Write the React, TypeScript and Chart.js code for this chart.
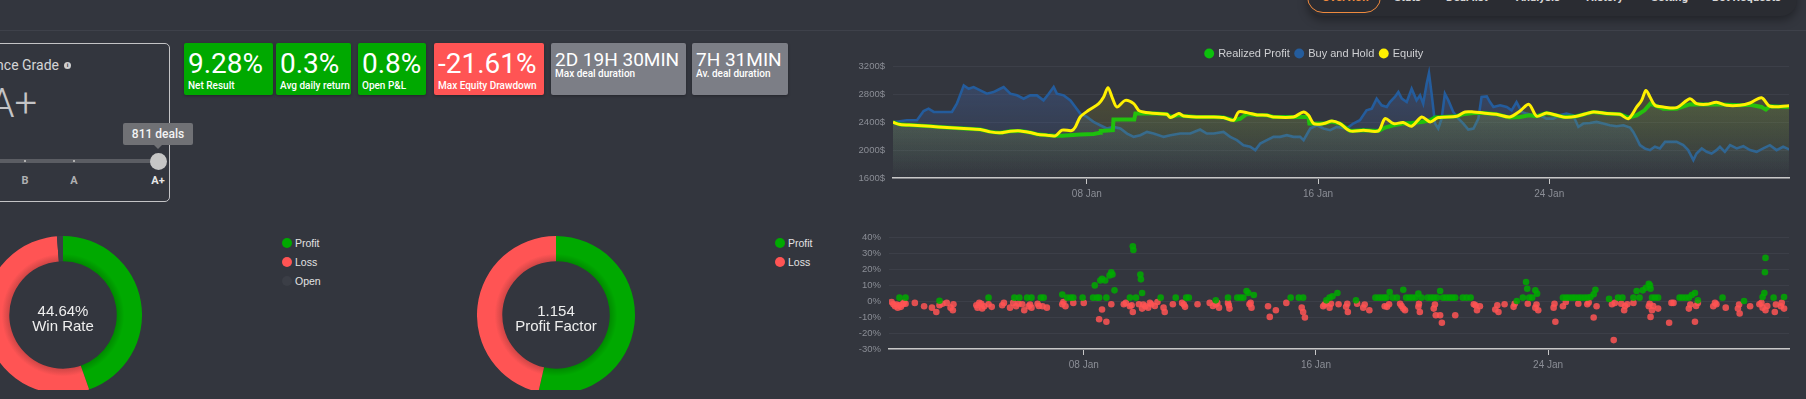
import React, { useEffect, useRef } from "react";
import { Chart, registerables } from "chart.js";
Chart.register(...registerables);

// ---------------- data ----------------
const navItems = ["Overview", "Stats", "Deal list", "Analysis", "History", "Setting", "Bot Requests"];
const kpiValues = ["9.28%", "0.3%", "0.8%", "-21.61%", "2D 19H 30MIN", "7H 31MIN"];
const kpiLabels = ["Net Result", "Avg daily return", "Open P&L", "Max Equity Drawdown", "Max deal duration", "Av. deal duration"];
const kpiKinds = ["pos", "pos", "pos", "neg", "info", "info"];
const gradeTitle = "Performance Grade";
const gradeValue = "A+";
const gradeSteps = ["B", "A", "A+"];
const dealsText = "811 deals";

const winLabels = ["Profit", "Loss", "Open"];
const winCounts = [362, 439, 10];
const winRateText = "44.64%";
const winRateCaption = "Win Rate";
const pfLabels = ["Profit", "Loss"];
const pfValues = [1.154, 1];
const pfText = "1.154";
const pfCaption = "Profit Factor";

const xTickDays = [8, 16, 24];
const xTickLabels = ["08 Jan", "16 Jan", "24 Jan"];
const equityTicks = [1600, 2000, 2400, 2800, 3200];
const pctTicks = [-30, -20, -10, 0, 10, 20, 30, 40];
const seriesNames = ["Realized Profit", "Buy and Hold", "Equity"];

const rpDays = [1.29, 1.54, 2.0, 2.58, 3.16, 3.74, 4.31, 4.66, 5.0, 5.35, 5.7, 6.04, 6.27, 6.62, 6.91, 7.14, 7.77, 8.23, 8.46, 8.48, 8.9, 8.92, 9.64, 9.68, 9.96, 10.42, 10.77, 10.89, 11.18, 11.35, 11.81, 12.39, 12.73, 13.08, 13.3, 13.54, 13.89, 14.23, 14.46, 15.15, 15.5, 15.67, 15.7, 16.19, 16.48, 16.76, 17.11, 17.57, 18.09, 18.32, 18.61, 18.95, 19.24, 19.59, 19.88, 20.05, 20.8, 21.0, 21.38, 21.72, 22.18, 22.64, 22.99, 23.3, 23.57, 23.91, 24.49, 24.95, 25.53, 25.99, 26.45, 26.74, 27.03, 27.3, 27.5, 27.95, 28.41, 28.87, 29.45, 29.79, 30.6, 30.95, 31.35, 31.5, 31.64, 32.31];
const rpValues = [2400, 2367, 2357, 2343, 2324, 2310, 2295, 2262, 2248, 2271, 2276, 2252, 2229, 2214, 2205, 2205, 2224, 2233, 2248, 2276, 2286, 2438, 2440, 2524, 2524, 2524, 2514, 2476, 2505, 2490, 2476, 2476, 2467, 2429, 2450, 2520, 2505, 2500, 2476, 2476, 2476, 2476, 2381, 2381, 2410, 2381, 2276, 2286, 2276, 2324, 2357, 2381, 2390, 2405, 2429, 2467, 2486, 2514, 2533, 2533, 2514, 2467, 2476, 2500, 2486, 2533, 2476, 2486, 2548, 2524, 2514, 2467, 2500, 2571, 2667, 2595, 2595, 2657, 2655, 2657, 2643, 2650, 2619, 2581, 2629, 2619];

const bhDays = [1.29, 1.77, 2.12, 2.35, 2.52, 2.7, 3.04, 3.33, 3.5, 3.74, 3.91, 4.08, 4.31, 4.54, 4.77, 5.0, 5.12, 5.35, 5.58, 5.81, 6.04, 6.27, 6.5, 6.68, 6.85, 6.96, 7.2, 7.43, 7.6, 7.77, 8.0, 8.23, 8.46, 8.69, 8.93, 9.16, 9.39, 9.62, 9.85, 10.08, 10.31, 10.66, 10.89, 11.23, 11.58, 11.92, 12.15, 12.39, 12.73, 12.96, 13.19, 13.42, 13.65, 13.83, 14.0, 14.23, 14.46, 14.69, 14.92, 15.15, 15.38, 15.5, 15.73, 15.96, 16.19, 16.42, 16.65, 16.99, 17.22, 17.45, 17.68, 17.86, 18.03, 18.2, 18.38, 18.49, 18.66, 18.78, 18.9, 19.07, 19.24, 19.41, 19.53, 19.64, 19.76, 19.84, 19.93, 20.05, 20.16, 20.28, 20.39, 20.51, 20.68, 20.86, 21.03, 21.2, 21.38, 21.55, 21.66, 21.84, 21.95, 22.07, 22.3, 22.53, 22.7, 22.87, 23.05, 23.22, 23.45, 23.68, 23.91, 24.14, 24.37, 24.6, 24.83, 25.01, 25.18, 25.41, 25.64, 25.87, 26.1, 26.33, 26.57, 26.8, 26.91, 27.03, 27.14, 27.31, 27.49, 27.66, 27.83, 28.01, 28.18, 28.41, 28.64, 28.81, 28.99, 29.1, 29.28, 29.45, 29.62, 29.79, 29.91, 30.08, 30.26, 30.49, 30.72, 30.95, 31.18, 31.41, 31.64, 31.87, 32.1, 32.31];
const bhValues = [2400, 2429, 2429, 2562, 2595, 2548, 2548, 2548, 2667, 2929, 2881, 2905, 2857, 2810, 2833, 2881, 2905, 2810, 2786, 2738, 2786, 2786, 2714, 2810, 2905, 2810, 2786, 2714, 2619, 2524, 2476, 2405, 2357, 2310, 2333, 2310, 2238, 2190, 2214, 2262, 2238, 2190, 2214, 2238, 2238, 2295, 2238, 2238, 2262, 2190, 2143, 2071, 2048, 2000, 2095, 2143, 2190, 2190, 2214, 2190, 2190, 2143, 2310, 2357, 2310, 2286, 2333, 2310, 2381, 2429, 2571, 2595, 2738, 2643, 2619, 2690, 2762, 2833, 2738, 2690, 2881, 2714, 2786, 2667, 2952, 3105, 2810, 2381, 2310, 2452, 2810, 2714, 2548, 2452, 2381, 2295, 2310, 2452, 2762, 2771, 2690, 2619, 2643, 2619, 2571, 2690, 2548, 2524, 2500, 2500, 2452, 2452, 2500, 2524, 2500, 2333, 2381, 2390, 2405, 2381, 2357, 2343, 2357, 2324, 2262, 2167, 2071, 2024, 2000, 2048, 2024, 2119, 2119, 2119, 2071, 2000, 1857, 1952, 2024, 1976, 1952, 2000, 2048, 1976, 2071, 2024, 2057, 2000, 1976, 2024, 2071, 2000, 2048, 2010];

const eqDays = [1.29, 1.54, 2.0, 2.58, 3.16, 3.74, 4.31, 4.66, 5.0, 5.35, 5.7, 6.04, 6.27, 6.62, 6.91, 7.14, 7.48, 7.6, 7.77, 8.06, 8.41, 8.58, 8.73, 8.89, 9.04, 9.33, 9.62, 9.79, 9.96, 10.42, 10.77, 10.89, 11.18, 11.35, 11.81, 12.39, 12.73, 13.08, 13.25, 13.54, 13.89, 14.23, 14.46, 15.15, 15.5, 15.67, 15.85, 16.19, 16.48, 16.76, 17.11, 17.57, 18.09, 18.32, 18.61, 18.95, 19.24, 19.59, 19.88, 20.16, 20.8, 21.09, 21.38, 21.72, 22.18, 22.64, 22.99, 23.3, 23.57, 23.91, 24.49, 24.95, 25.53, 25.99, 26.45, 26.74, 27.03, 27.2, 27.35, 27.49, 27.66, 27.95, 28.41, 28.87, 29.1, 29.45, 29.79, 30.14, 30.6, 30.95, 31.35, 31.64, 32.31];
const eqValues = [2400, 2367, 2357, 2343, 2324, 2310, 2295, 2262, 2248, 2271, 2276, 2252, 2229, 2214, 2205, 2286, 2281, 2333, 2476, 2571, 2667, 2762, 2895, 2738, 2619, 2714, 2667, 2571, 2548, 2524, 2514, 2467, 2524, 2490, 2476, 2476, 2467, 2429, 2548, 2538, 2505, 2500, 2476, 2476, 2548, 2500, 2381, 2381, 2419, 2381, 2276, 2286, 2276, 2452, 2381, 2395, 2343, 2476, 2405, 2467, 2486, 2548, 2548, 2533, 2514, 2476, 2562, 2657, 2486, 2533, 2476, 2486, 2548, 2524, 2514, 2452, 2619, 2714, 2857, 2762, 2643, 2619, 2610, 2738, 2667, 2657, 2686, 2643, 2643, 2676, 2752, 2629, 2638];

const profitDays = [1.65, 1.86, 3.03, 4.72, 5.61, 5.78, 6.05, 6.2, 6.52, 6.62, 7.26, 7.43, 7.55, 7.64, 7.96, 8.32, 8.38, 8.45, 8.53, 8.57, 8.63, 8.74, 8.78, 8.89, 8.95, 8.99, 9.06, 9.59, 9.69, 9.71, 9.8, 9.95, 9.97, 10.01, 10.65, 11.17, 11.53, 11.62, 12.55, 12.97, 13.29, 13.4, 13.5, 13.61, 13.67, 13.86, 15.13, 15.41, 15.56, 16.36, 16.47, 16.57, 16.74, 17.38, 18.05, 18.16, 18.26, 18.36, 18.43, 18.54, 18.65, 18.79, 19.01, 19.11, 19.22, 19.32, 19.43, 19.53, 19.64, 19.85, 19.96, 20.06, 20.17, 20.28, 20.38, 20.49, 20.6, 20.7, 20.8, 21.06, 21.19, 21.33, 22.92, 23.13, 23.24, 23.28, 23.35, 23.45, 23.56, 23.62, 24.51, 24.62, 24.72, 24.83, 24.93, 25.04, 25.14, 25.25, 25.35, 25.46, 25.57, 25.63, 26.1, 26.41, 26.56, 26.94, 27.05, 27.15, 27.26, 27.37, 27.47, 27.51, 27.53, 27.58, 27.68, 27.79, 28.53, 28.63, 28.74, 28.85, 28.95, 29.06, 29.16, 30.01, 30.75, 31.39, 31.45, 31.47, 31.49, 31.77, 32.13];
const profitPct = [2.3, 2.3, 0.3, 2.3, 2.3, 2.3, 2.3, 2.3, 2.3, 2.3, 4.2, 2.3, 2.3, 2.3, 2.3, 2.3, 10.0, 2.3, 2.3, 13.1, 14.2, 13.1, 2.3, 16.3, 18.3, 16.9, 6.9, 2.3, 34.6, 32.3, 2.3, 16.9, 13.8, 5.2, 2.3, 2.3, 2.3, 2.3, 0.6, 2.3, 2.3, 2.3, 2.3, 6.5, 5.2, 4.0, 2.3, 2.3, 2.3, 0.6, 2.3, 3.1, 5.2, 0.6, 2.3, 2.3, 2.3, 2.3, 2.3, 5.8, 2.3, 2.3, 7.3, 2.3, 2.3, 2.3, 2.3, 4.8, 2.3, 2.3, 2.3, 2.3, 2.3, 6.5, 2.3, 2.3, 2.3, 2.3, 2.3, 2.3, 2.3, 2.3, 0.2, 2.3, 12.1, 7.9, 2.3, 2.3, 6.9, 4.8, 2.3, 2.3, 2.3, 2.3, 2.3, 2.3, 2.3, 2.3, 2.3, 2.7, 4.4, 7.3, 1.5, 2.3, 2.3, 2.3, 6.5, 2.3, 6.9, 8.5, 11.0, 10.0, 7.9, 2.3, 2.3, 2.3, 2.3, 2.3, 2.3, 2.3, 4.0, 5.2, 0.6, 2.3, 0.2, 2.7, 5.2, 18.3, 27.3, 2.3, 2.7];

const lossDays = [1.38, 1.44, 1.5, 1.55, 1.59, 1.65, 1.7, 1.76, 1.8, 1.86, 2.18, 2.5, 2.77, 2.92, 3.03, 3.13, 3.28, 3.41, 3.49, 3.51, 4.3, 4.34, 4.4, 4.47, 4.5, 4.57, 4.72, 4.83, 5.19, 5.25, 5.46, 5.57, 5.67, 5.75, 5.88, 5.95, 6.1, 6.15, 6.2, 6.41, 6.45, 6.58, 6.73, 7.26, 7.3, 7.37, 7.64, 8.0, 8.53, 8.63, 8.78, 8.95, 9.38, 9.45, 9.59, 9.65, 9.69, 9.9, 10.01, 10.05, 10.12, 10.22, 10.28, 10.33, 10.45, 10.54, 10.75, 10.79, 11.07, 11.39, 11.45, 11.49, 11.92, 12.34, 12.45, 12.55, 12.6, 12.66, 12.97, 13.0, 13.02, 13.71, 13.75, 13.78, 14.35, 14.41, 14.62, 14.98, 15.51, 15.56, 15.62, 16.25, 16.3, 16.36, 16.47, 16.52, 16.78, 17.04, 17.08, 17.1, 17.42, 17.63, 17.68, 17.84, 18.37, 18.45, 18.52, 18.9, 18.95, 19.01, 19.07, 19.53, 19.55, 19.58, 20.06, 20.1, 20.13, 20.28, 20.34, 20.8, 21.44, 21.5, 21.55, 21.65, 22.18, 22.25, 22.29, 22.5, 22.81, 22.85, 23.3, 23.56, 23.6, 23.66, 24.19, 24.22, 24.25, 24.51, 24.61, 25.04, 25.35, 25.4, 25.57, 25.67, 26.2, 26.26, 26.3, 26.52, 26.62, 26.65, 26.73, 26.94, 27.47, 27.5, 27.53, 27.58, 27.62, 27.79, 28.17, 28.25, 28.32, 28.85, 28.9, 29.06, 29.1, 29.16, 29.69, 29.75, 29.8, 30.12, 30.54, 30.58, 30.6, 30.96, 31.28, 31.35, 31.39, 31.49, 31.55, 31.81, 31.85, 32.02, 32.05, 32.13];
const lossPct = [-0.4, -1.9, -3.1, -2.0, -4.0, -2.5, -3.5, -1.9, -0.8, -1.5, -1.0, -3.1, -4.0, -6.7, -2.5, -1.5, -1.0, -4.0, -5.6, -1.9, -2.5, -4.0, -1.0, -1.5, -4.5, -3.1, -1.9, -3.5, -2.5, -1.0, -4.0, -1.0, -3.1, -1.5, -1.9, -5.6, -3.1, -2.0, -4.0, -1.5, -3.0, -3.1, -4.0, -1.9, -0.5, -3.1, -1.0, -1.0, -11.3, -5.2, -12.9, -1.9, -1.9, -1.0, -3.1, -2.5, -6.7, -1.9, -4.6, -2.0, -3.1, -4.0, -1.0, -1.9, -3.0, -0.4, -4.0, -6.7, -1.9, -1.0, -2.0, -3.5, -1.9, -1.0, -3.0, -1.9, -1.0, -4.0, -1.0, -2.5, -4.6, -1.9, -1.0, -4.0, -3.1, -9.8, -5.6, -1.0, -4.0, -6.7, -10.2, -3.1, -2.0, -1.0, -4.0, -1.5, -1.9, -3.5, -1.5, -6.7, -1.5, -4.0, -2.0, -5.6, -3.1, -3.5, -1.9, -1.5, -3.0, -4.6, -5.6, -3.5, -1.5, -6.7, -4.6, -2.0, -8.8, -8.8, -13.5, -8.8, -1.9, -2.5, -5.6, -3.1, -5.2, -2.5, -6.7, -1.9, -3.5, -1.5, -1.5, -4.0, -2.0, -5.6, -4.0, -1.5, -12.9, -3.1, -0.4, -1.5, -1.9, -0.8, -10.2, -3.1, -1.9, -24.4, -1.0, -1.5, -5.6, -3.0, -1.9, -1.0, -3.1, -1.5, -9.8, -5.6, -3.0, -4.6, -13.5, -1.0, -1.0, -4.6, -2.0, -12.9, -3.0, -1.0, -3.1, -1.0, -1.9, -4.0, -4.6, -2.0, -7.7, -3.1, -1.9, -1.0, -4.0, -5.6, -3.0, -6.7, -2.0, -3.1, -1.0, -4.6];

// ---------------- styling ----------------
const BG = "#33363e";
const GREEN = "#00a900";
const RED = "#ff5454";
const GREY = "#7c7e86";
const LINE_GREEN = "#0cc00c";
const LINE_BLUE = "#245c9c";
const LINE_YELLOW = "#fff000";
const TICK_COLOR = "#8b8e96";
const GRID_COLOR = "#3c3f48";
const AXIS_COLOR = "#c8c8c8";
const FONT = "Roboto, 'Liberation Sans', Arial, sans-serif";
const ARIAL = "'Liberation Sans', Arial, sans-serif";

const kpiBoxes = [
  { left: 184, width: 89 },
  { left: 276, width: 75 },
  { left: 358, width: 68 },
  { left: 434, width: 110 },
  { left: 551, width: 135 },
  { left: 692, width: 96 },
];
const navPos = [1322, 1394, 1446, 1516, 1586, 1651, 1712];

function pts(xs: number[], ys: number[]) {
  return xs.map((x, i) => ({ x, y: ys[i] }));
}

function vGradient(chart: any, top: string, bottom: string) {
  const area = chart.chartArea;
  if (!area) return top;
  const g = chart.ctx.createLinearGradient(0, area.top, 0, area.bottom);
  g.addColorStop(0, top);
  g.addColorStop(1, bottom);
  return g;
}

// trims the fixed 10px gap Chart.js puts under a horizontal legend
const legendTrim = {
  id: "legendTrim",
  beforeUpdate(chart: any) {
    const lg = chart.legend;
    if (lg && !lg.__trimmed) {
      const orig = lg.fit.bind(lg);
      lg.fit = function () {
        orig();
        this.height = Math.max(0, this.height - 2.5);
      };
      lg.__trimmed = true;
    }
  },
};

function xScale() {
  return {
    type: "linear" as const,
    min: 1.29,
    max: 32.3,
    afterBuildTicks: (axis: any) => {
      axis.ticks = xTickDays.map((v) => ({ value: v }));
    },
    ticks: {
      color: TICK_COLOR,
      font: { size: 10, family: ARIAL },
      padding: 4,
      maxRotation: 0,
      autoSkip: false,
      callback: (v: any) => xTickLabels[xTickDays.indexOf(Number(v))] ?? "",
    },
    grid: { display: true, drawOnChartArea: false, color: AXIS_COLOR, tickLength: 6, lineWidth: 1 },
    border: { display: true, color: AXIS_COLOR, width: 1.5 },
  };
}

function EquityChart() {
  const ref = useRef<HTMLCanvasElement>(null);
  useEffect(() => {
    const lineColors = [LINE_GREEN, LINE_BLUE, LINE_YELLOW];
    const chart = new Chart(ref.current!, {
      type: "line",
      plugins: [legendTrim],
      data: {
        datasets: [
          {
            label: seriesNames[0],
            data: pts(rpDays, rpValues),
            borderColor: LINE_GREEN,
            borderWidth: 4,
            pointRadius: 0,
            tension: 0,
            order: 1,
            fill: "start",
            backgroundColor: (c: any) => vGradient(c.chart, "rgba(90,160,115,0.26)", "rgba(90,160,115,0.0)"),
          },
          {
            label: seriesNames[1],
            data: pts(bhDays, bhValues),
            borderColor: LINE_BLUE,
            borderWidth: 2.6,
            pointRadius: 0,
            tension: 0,
            order: 2,
            fill: "start",
            backgroundColor: (c: any) => vGradient(c.chart, "rgba(70,110,190,0.36)", "rgba(70,110,190,0.0)"),
          },
          {
            label: seriesNames[2],
            data: pts(eqDays, eqValues),
            borderColor: LINE_YELLOW,
            borderWidth: 3,
            pointRadius: 0,
            tension: 0.3,
            order: 0,
            fill: "start",
            backgroundColor: (c: any) => vGradient(c.chart, "rgba(200,190,20,0.22)", "rgba(200,190,20,0.0)"),
          },
        ],
      },
      options: {
        animation: false,
        responsive: false,
        maintainAspectRatio: false,
        layout: { padding: { left: 0, right: 11, top: 0, bottom: 0 } },
        plugins: {
          tooltip: { enabled: false },
          legend: {
            display: true,
            labels: {
              usePointStyle: true,
              pointStyle: "circle",
              boxWidth: 7,
              boxHeight: 7,
              padding: 6,
              color: "#cfd0d3",
              font: { size: 11, family: ARIAL },
              generateLabels: (ch: any) => {
                const items = (Chart.defaults.plugins.legend.labels as any).generateLabels(ch);
                items.forEach((it: any) => {
                  it.fillStyle = lineColors[it.datasetIndex];
                  it.strokeStyle = lineColors[it.datasetIndex];
                  it.lineWidth = 0;
                });
                return items.sort((a: any, b: any) => a.datasetIndex - b.datasetIndex);
              },
            },
          },
        },
        scales: {
          x: xScale(),
          y: {
            min: 1600,
            max: 3200,
            afterBuildTicks: (axis: any) => {
              axis.ticks = equityTicks.map((v) => ({ value: v }));
            },
            ticks: {
              color: TICK_COLOR,
              font: { size: 9.5, family: ARIAL },
              padding: 8,
              callback: (v: any) => `${v}$`,
            },
            grid: { color: GRID_COLOR, drawTicks: false },
            border: { display: false },
            afterFit: (s: any) => {
              s.width = 53;
            },
          },
        },
      } as any,
    });
    return () => chart.destroy();
  }, []);
  return <canvas ref={ref} width={960} height={162} style={{ position: "absolute", left: 840, top: 42, width: 960, height: 162 }} />;
}

function TradesChart() {
  const ref = useRef<HTMLCanvasElement>(null);
  useEffect(() => {
    const chart = new Chart(ref.current!, {
      type: "scatter",
      data: {
        datasets: [
          {
            label: "Profit",
            data: pts(profitDays, profitPct),
            backgroundColor: "rgba(0,170,0,0.85)",
            borderWidth: 0,
            pointRadius: 3.3,
          },
          {
            label: "Loss",
            data: pts(lossDays, lossPct),
            backgroundColor: "rgba(255,84,84,0.85)",
            borderWidth: 0,
            pointRadius: 3.3,
          },
        ],
      },
      options: {
        animation: false,
        responsive: false,
        maintainAspectRatio: false,
        layout: { padding: { left: 0, right: 11, top: 0, bottom: 0 } },
        plugins: { legend: { display: false }, tooltip: { enabled: false } },
        scales: {
          x: xScale(),
          y: {
            min: -30,
            max: 40,
            afterBuildTicks: (axis: any) => {
              axis.ticks = pctTicks.map((v) => ({ value: v }));
            },
            ticks: {
              color: TICK_COLOR,
              font: { size: 9.5, family: ARIAL },
              padding: 8,
              callback: (v: any) => `${v}%`,
            },
            grid: { color: GRID_COLOR, drawTicks: false },
            border: { display: false },
            afterFit: (s: any) => {
              s.width = 49;
            },
          },
        },
      } as any,
    });
    return () => chart.destroy();
  }, []);
  return <canvas ref={ref} width={960} height={151} style={{ position: "absolute", left: 840, top: 224, width: 960, height: 151 }} />;
}

function ringGradient(c: any, base: string, dark: string) {
  const chart = c.chart;
  const a = chart.chartArea;
  if (!a) return base;
  const cx = (a.left + a.right) / 2;
  const cy = (a.top + a.bottom) / 2;
  const r = Math.min(a.right - a.left, a.bottom - a.top) / 2;
  const g = chart.ctx.createRadialGradient(cx, cy, r * 0.68, cx, cy, r);
  g.addColorStop(0, dark);
  g.addColorStop(0.3, base);
  g.addColorStop(1, base);
  return g;
}

function Donut(props: { values: number[]; labels: string[]; colors: string[]; darks: string[]; cx: number; cy: number; r: number; line1: string; line2: string }) {
  const ref = useRef<HTMLCanvasElement>(null);
  const { values, labels, colors, darks, cx, cy, r, line1, line2 } = props;
  useEffect(() => {
    const chart = new Chart(ref.current!, {
      type: "doughnut",
      data: {
        labels,
        datasets: [
          {
            data: values,
            backgroundColor: (c: any) => ringGradient(c, colors[c.dataIndex], darks[c.dataIndex]),
            borderWidth: 0,
          },
        ],
      },
      options: {
        animation: false,
        responsive: false,
        maintainAspectRatio: false,
        cutout: "68%",
        plugins: { legend: { display: false }, tooltip: { enabled: false } },
      } as any,
    });
    return () => chart.destroy();
  }, []);
  const size = r * 2;
  return (
    <>
      <div style={{ position: "absolute", left: cx - r, top: cy - r, width: size, height: 390 - (cy - r), overflow: "hidden" }}>
        <canvas ref={ref} width={size} height={size} style={{ width: size, height: size, display: "block" }} />
      </div>
      <div style={{ position: "absolute", left: cx - 60, width: 120, top: cy - 11, textAlign: "center", color: "#eeeeee", font: `15px ${ARIAL}`, lineHeight: "14.5px" }}>
        <div>{line1}</div>
        <div>{line2}</div>
      </div>
    </>
  );
}

function DonutLegend(props: { labels: string[]; colors: string[]; x: number; y: number }) {
  return (
    <div style={{ position: "absolute", left: props.x, top: props.y }}>
      {props.labels.map((l, i) => (
        <div key={l} style={{ position: "absolute", left: 0, top: i * 19, height: 12, whiteSpace: "nowrap", display: "flex", alignItems: "center" }}>
          <span style={{ display: "inline-block", width: 10, height: 10, borderRadius: 5, background: props.colors[i], marginRight: 3 }} />
          <span style={{ color: "#e2e2e2", font: `10.5px ${ARIAL}`, lineHeight: "12px" }}>{l}</span>
        </div>
      ))}
    </div>
  );
}

export default function App() {
  return (
    <div style={{ position: "fixed", left: 0, top: 0, width: 1806, height: 399, background: BG, overflow: "hidden", fontFamily: FONT }}>
      {/* top navigation */}
      <div style={{ position: "absolute", left: 0, top: 30, width: 1806, height: 1, background: "#3e414a" }} />
      <div style={{ position: "absolute", left: 1307, top: -30, width: 490, height: 46, background: "#2a2c32", borderRadius: "0 0 16px 16px", boxShadow: "0 4px 10px rgba(0,0,0,0.35)" }} />
      <div style={{ position: "absolute", left: 1307, top: -20, width: 72, height: 31, border: "1.5px solid #ef8a3e", borderRadius: 16 }} />
      {navItems.map((n, i) => (
        <div key={n} style={{ position: "absolute", left: navPos[i], top: -8, font: `bold 11.5px ${FONT}`, lineHeight: "11.5px", color: i === 0 ? "#ef8a3e" : "#d8d8d8", whiteSpace: "nowrap" }}>
          {n}
        </div>
      ))}

      {/* grade card */}
      <div style={{ position: "absolute", left: -80, top: 43, width: 250, height: 159, boxSizing: "border-box", border: "1px solid #c4c4c6", borderRadius: 5 }} />
      <div style={{ position: "absolute", right: 1806 - 59, top: 57, font: `14px ${FONT}`, lineHeight: "16px", color: "#d4d4d6", whiteSpace: "nowrap" }}>{gradeTitle}</div>
      <div style={{ position: "absolute", left: 64, top: 62, width: 7, height: 7, borderRadius: 4, background: "#cfcfcf", color: BG, font: `bold 6px ${ARIAL}`, lineHeight: "7px", textAlign: "center" }}>i</div>
      <div style={{ position: "absolute", right: 1806 - 37, top: 84, font: `300 40px ${FONT}`, lineHeight: "40px", color: "#c4c4c6", whiteSpace: "nowrap" }}>{gradeValue}</div>
      <div style={{ position: "absolute", left: -80, top: 159, width: 238, height: 4, borderRadius: 2, background: "#5b5d63" }} />
      {[25, 74].map((x) => (
        <div key={x} style={{ position: "absolute", left: x - 1, top: 160, width: 2, height: 2, background: "#b0b0b0" }} />
      ))}
      <div style={{ position: "absolute", left: 150, top: 153, width: 17, height: 17, borderRadius: 9, background: "#c6c6c6" }} />
      {gradeSteps.map((s, i) => (
        <div key={s} style={{ position: "absolute", left: [25, 74, 158][i] - 20, width: 40, textAlign: "center", top: 175, font: `bold 11px ${FONT}`, lineHeight: "11px", color: i === 2 ? "#e6e6e6" : "#b0b0b2" }}>
          {s}
        </div>
      ))}
      <div style={{ position: "absolute", left: 123, top: 123, width: 70, height: 22, background: "#707175", borderRadius: 2, color: "#f4f4f4", font: `500 12px ${FONT}`, lineHeight: "22px", textAlign: "center" }}>{dealsText}</div>
      <div style={{ position: "absolute", left: 154, top: 145, width: 0, height: 0, borderLeft: "4px solid transparent", borderRight: "4px solid transparent", borderTop: "4px solid #707175" }} />

      {/* KPI boxes */}
      {kpiValues.map((v, i) => {
        const kind = kpiKinds[i];
        const bg = kind === "pos" ? GREEN : kind === "neg" ? RED : GREY;
        const info = kind === "info";
        return (
          <div key={i} style={{ position: "absolute", left: kpiBoxes[i].left, top: 43, width: kpiBoxes[i].width, height: 52, background: bg, borderRadius: 2, boxShadow: "0 1px 3px rgba(0,0,0,0.3)", overflow: "hidden" }}>
            <div style={{ position: "absolute", left: 4, top: 7, font: `${info ? 19 : 28}px ${FONT}`, lineHeight: info ? "19px" : "28px", color: "#ffffff", whiteSpace: "nowrap" }}>{v}</div>
            <div style={{ position: "absolute", left: 4, top: info ? 26 : 38, font: `500 10px ${FONT}`, lineHeight: "10.5px", color: "#ffffff", whiteSpace: "nowrap" }}>{kpiLabels[i]}</div>
          </div>
        );
      })}

      {/* donuts */}
      <Donut values={winCounts} labels={winLabels} colors={[GREEN, RED, "#3b3e46"]} darks={["#008a00", "#d04646", "#3b3e46"]} cx={63} cy={315} r={79} line1={winRateText} line2={winRateCaption} />
      <DonutLegend labels={winLabels} colors={[GREEN, RED, "#3b3e46"]} x={282} y={237} />
      <Donut values={pfValues} labels={pfLabels} colors={[GREEN, RED]} darks={["#008a00", "#d04646"]} cx={556} cy={315} r={79} line1={pfText} line2={pfCaption} />
      <DonutLegend labels={pfLabels} colors={[GREEN, RED]} x={775} y={237} />

      {/* right charts */}
      <EquityChart />
      <TradesChart />
    </div>
  );
}
